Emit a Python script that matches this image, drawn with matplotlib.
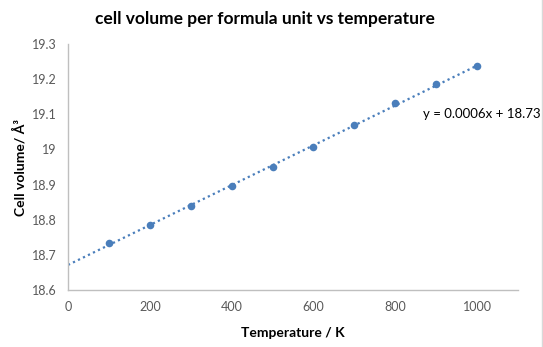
import numpy as np
import matplotlib
matplotlib.use("Agg")
import matplotlib.pyplot as plt
from matplotlib.lines import Line2D

temperature = [100, 200, 300, 400, 500, 600, 700, 800, 900, 1000]
cell_volume = [18.734, 18.785, 18.839, 18.896, 18.950, 19.007, 19.069, 19.131, 19.186, 19.236]
x_ticks = [0, 200, 400, 600, 800, 1000]
y_ticks = [18.6, 18.7, 18.8, 18.9, 19.0, 19.1, 19.2, 19.3]
y_tick_labels = ["18.6", "18.7", "18.8", "18.9", "19", "19.1", "19.2", "19.3"]
equation = "y = 0.0006x + 18.73"

plt.rcParams['font.family'] = ['Lato', 'DejaVu Sans']

fig = plt.figure(figsize=(5.43, 3.47), dpi=100)
ax = fig.add_axes([68/543, 57/347, 450/543, 246/347])

blue = "#4a7ebb"
ax.scatter(temperature, cell_volume, s=30, color=blue, zorder=3, linewidths=0)

slope, intercept = np.polyfit(temperature, cell_volume, 1)
xt = np.array([0, max(temperature)])
ax.plot(xt, slope * xt + intercept, linestyle=(0, (1, 1.5)), color=blue, linewidth=1.6, zorder=2)

ax.set_xlim(0, 1100)
ax.set_ylim(18.6, 19.3)
ax.set_xticks(x_ticks)
ax.set_yticks(y_ticks)
ax.set_yticklabels(y_tick_labels)
ax.tick_params(length=0, labelsize=9, colors="#595959", pad=8)
for s in ["top", "right"]:
    ax.spines[s].set_visible(False)
for s in ["left", "bottom"]:
    ax.spines[s].set_color("#bfbfbf")
    ax.spines[s].set_linewidth(1)

ax.set_xlabel("Temperature / K", fontsize=10, fontweight="bold", labelpad=10)
ax.set_ylabel("Cell volume/ Å³", fontsize=10, fontweight="bold", labelpad=4)
fig.text(265/543, 1 - 19/347, "cell volume per formula unit vs temperature",
         ha="center", va="center", fontsize=12.5, fontweight="bold")
ax.text(868, 19.101, equation, fontsize=9.5, ha="left", va="center", color="black")

fig.add_artist(Line2D([541.5/543, 541.5/543], [0, 1], color="#d9d9d9", linewidth=1, transform=fig.transFigure))

fig.savefig("out.png", dpi=100)
